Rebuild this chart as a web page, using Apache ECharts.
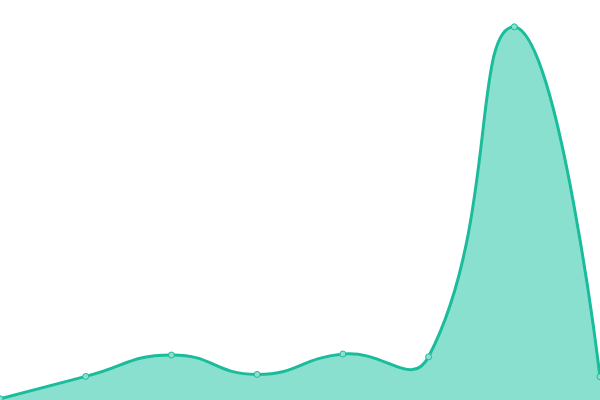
<!DOCTYPE html>
<html>
<head>
<meta charset="utf-8">
<script src="https://cdn.jsdelivr.net/npm/echarts@6/dist/echarts.min.js"></script>
<style>
  html, body { margin: 0; padding: 0; background: #fff; }
  #main { width: 600px; height: 400px; }
</style>
</head>
<body>
<div id="main"></div>
<script>
var categories = ['1', '2', '3', '4', '5', '6', '7', '8'];
var values = [0.3, 5.9, 11.25, 6.4, 11.5, 10.8, 93.3, 5.8];

var lineColor = '#1abc9c';
var areaColor = '#8ae0cf';
var smooth = 0.5;

// old-style smoothed curve (control points may overshoot, clamped to the points' box)
function buildCurve(pts) {
    var minX = Infinity, minY = Infinity, maxX = -Infinity, maxY = -Infinity;
    pts.forEach(function (p) {
        minX = Math.min(minX, p[0]); maxX = Math.max(maxX, p[0]);
        minY = Math.min(minY, p[1]); maxY = Math.max(maxY, p[1]);
    });
    function clamp(c) {
        return [Math.min(maxX, Math.max(minX, c[0])), Math.min(maxY, Math.max(minY, c[1]))];
    }
    var n = pts.length;
    var inCp = [], outCp = [];
    for (var i = 0; i < n; i++) {
        var p = pts[i];
        if (i === 0 || i === n - 1) {
            inCp[i] = p; outCp[i] = p;
            continue;
        }
        var prev = pts[i - 1], next = pts[i + 1];
        var vx = (next[0] - prev[0]) * smooth, vy = (next[1] - prev[1]) * smooth;
        var d0 = Math.hypot(p[0] - prev[0], p[1] - prev[1]);
        var d1 = Math.hypot(p[0] - next[0], p[1] - next[1]);
        var sum = d0 + d1 || 1;
        inCp[i] = clamp([p[0] - vx * d0 / sum, p[1] - vy * d0 / sum]);
        outCp[i] = clamp([p[0] + vx * d1 / sum, p[1] + vy * d1 / sum]);
    }
    var d = 'M' + pts[0][0] + ' ' + pts[0][1];
    for (var j = 1; j < n; j++) {
        d += ' C' + outCp[j - 1][0] + ' ' + outCp[j - 1][1] + ' ' +
            inCp[j][0] + ' ' + inCp[j][1] + ' ' + pts[j][0] + ' ' + pts[j][1];
    }
    return d;
}

var myChart = echarts.init(document.getElementById('main'));
myChart.setOption({
    animation: false,
    grid: { left: 0, right: 0, top: 0, bottom: 0 },
    xAxis: {
        type: 'category',
        data: categories,
        boundaryGap: false,
        show: false
    },
    yAxis: {
        type: 'value',
        min: 0,
        max: 100,
        show: false
    },
    series: [
        {
            type: 'custom',
            data: values.map(function (v, i) { return [i, v]; }),
            encode: { x: 0, y: 1 },
            renderItem: function (params, api) {
                if (params.dataIndex !== 0) return null;
                var pts = values.map(function (v, i) { return api.coord([i, v]); });
                var base = api.coord([0, 0])[1];
                var curve = buildCurve(pts);
                var last = pts[pts.length - 1];
                var area = curve + ' L' + last[0] + ' ' + base + ' L' + pts[0][0] + ' ' + base + ' Z';
                return {
                    type: 'group',
                    children: [
                        { type: 'path', shape: { pathData: area }, style: { fill: areaColor, stroke: null } },
                        { type: 'path', shape: { pathData: curve }, style: { fill: null, stroke: lineColor, lineWidth: 3 } }
                    ]
                };
            },
            z: 1
        },
        {
            type: 'scatter',
            data: values,
            symbol: 'circle',
            symbolSize: 6,
            itemStyle: {
                color: areaColor,
                borderColor: lineColor,
                borderWidth: 1,
                opacity: 1
            },
            z: 3
        }
    ]
});
</script>
</body>
</html>
